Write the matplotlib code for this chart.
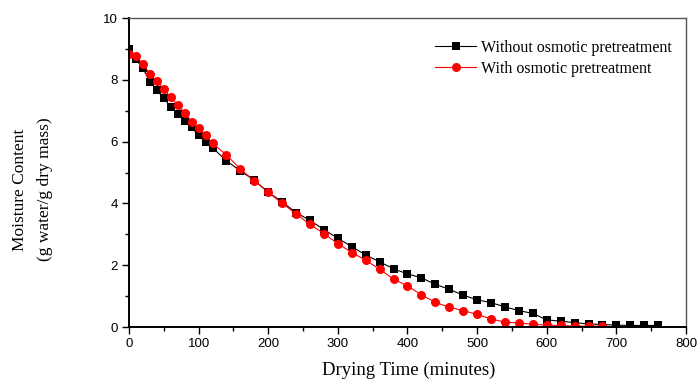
import matplotlib
matplotlib.use('Agg')
import matplotlib.pyplot as plt
from matplotlib.ticker import MultipleLocator

# Drying curves
TIME_WITHOUT = [0, 10, 20, 30, 40, 50, 60, 70, 80, 90, 100, 110, 120,
                140, 160, 180, 200, 220, 240, 260, 280, 300, 320, 340, 360,
                380, 400, 420, 440, 460, 480, 500, 520, 540, 560, 580, 600,
                620, 640, 660, 680, 700, 720, 740, 760]
MC_WITHOUT = [9.0, 8.66, 8.37, 7.94, 7.67, 7.40, 7.13, 6.88, 6.68, 6.46, 6.20,
              5.98, 5.80, 5.38, 5.05, 4.75, 4.36, 4.05, 3.70, 3.45, 3.15, 2.87,
              2.60, 2.33, 2.11, 1.88, 1.72, 1.59, 1.38, 1.22, 1.03, 0.88, 0.79,
              0.65, 0.53, 0.44, 0.23, 0.19, 0.14, 0.10, 0.08, 0.06, 0.05, 0.05,
              0.05]

TIME_WITH = [0, 10, 20, 30, 40, 50, 60, 70, 80, 90, 100, 110, 120,
             140, 160, 180, 200, 220, 240, 260, 280, 300, 320, 340, 360,
             380, 400, 420, 440, 460, 480, 500, 520, 540, 560, 580, 600,
             620, 640, 660, 680]
MC_WITH = [8.85, 8.78, 8.50, 8.20, 7.95, 7.70, 7.43, 7.18, 6.94, 6.65, 6.43,
           6.21, 5.94, 5.57, 5.11, 4.73, 4.36, 4.00, 3.66, 3.32, 3.02, 2.70,
           2.41, 2.16, 1.87, 1.55, 1.33, 1.04, 0.80, 0.64, 0.53, 0.41, 0.26,
           0.16, 0.13, 0.09, 0.06, 0.05, 0.03, 0.03, 0.03]

SERIES_LABELS = ['Without osmotic pretreatment', 'With osmotic pretreatment']

SERIF = ['Liberation Serif', 'DejaVu Serif']
SANS = ['Liberation Sans', 'DejaVu Sans']

fig = plt.figure(figsize=(6.98, 3.79), dpi=100)
ax = fig.add_axes([0.1848, 0.1372, 0.798, 0.8153])

ax.plot(TIME_WITHOUT, MC_WITHOUT, color='black', lw=0.8, marker='s',
        markersize=5.5, markeredgewidth=0, label=SERIES_LABELS[0])
ax.plot(TIME_WITH, MC_WITH, color='red', lw=0.8, marker='o',
        markersize=6.5, markeredgewidth=0, label=SERIES_LABELS[1])

ax.set_xlim(0, 800)
ax.set_ylim(0, 10)
ax.xaxis.set_major_locator(MultipleLocator(100))
ax.xaxis.set_minor_locator(MultipleLocator(50))
ax.yaxis.set_major_locator(MultipleLocator(2))
ax.yaxis.set_minor_locator(MultipleLocator(1))
ax.tick_params(which='both', direction='out', top=False, right=False,
               labelsize=9.5, width=1.0, pad=3)
ax.tick_params(which='major', length=5)
ax.tick_params(which='minor', length=3)
for lbl in ax.get_xticklabels() + ax.get_yticklabels():
    lbl.set_family(SANS)

for side in ['left', 'bottom']:
    ax.spines[side].set_linewidth(1.4)
for side in ['top', 'right']:
    ax.spines[side].set_linewidth(1.0)
    ax.spines[side].set_color('#555555')

fig.text(0.585, 0.024, 'Drying Time (minutes)', ha='center', va='center',
         fontsize=13.5, family=SERIF)
fig.text(0.029, 0.5, 'Moisture Content', rotation=90, ha='center', va='center',
         fontsize=12.5, family=SERIF)
fig.text(0.065, 0.5, '(g water/g dry mass)', rotation=90, ha='center', va='center',
         fontsize=12.5, family=SERIF)

leg = ax.legend(loc='upper right', bbox_to_anchor=(0.995, 0.965), frameon=False,
                prop={'family': SERIF, 'size': 11.5}, handlelength=2.6,
                labelspacing=0.3, handletextpad=0.3, borderaxespad=0.3)

fig.savefig('out.png', dpi=100)
